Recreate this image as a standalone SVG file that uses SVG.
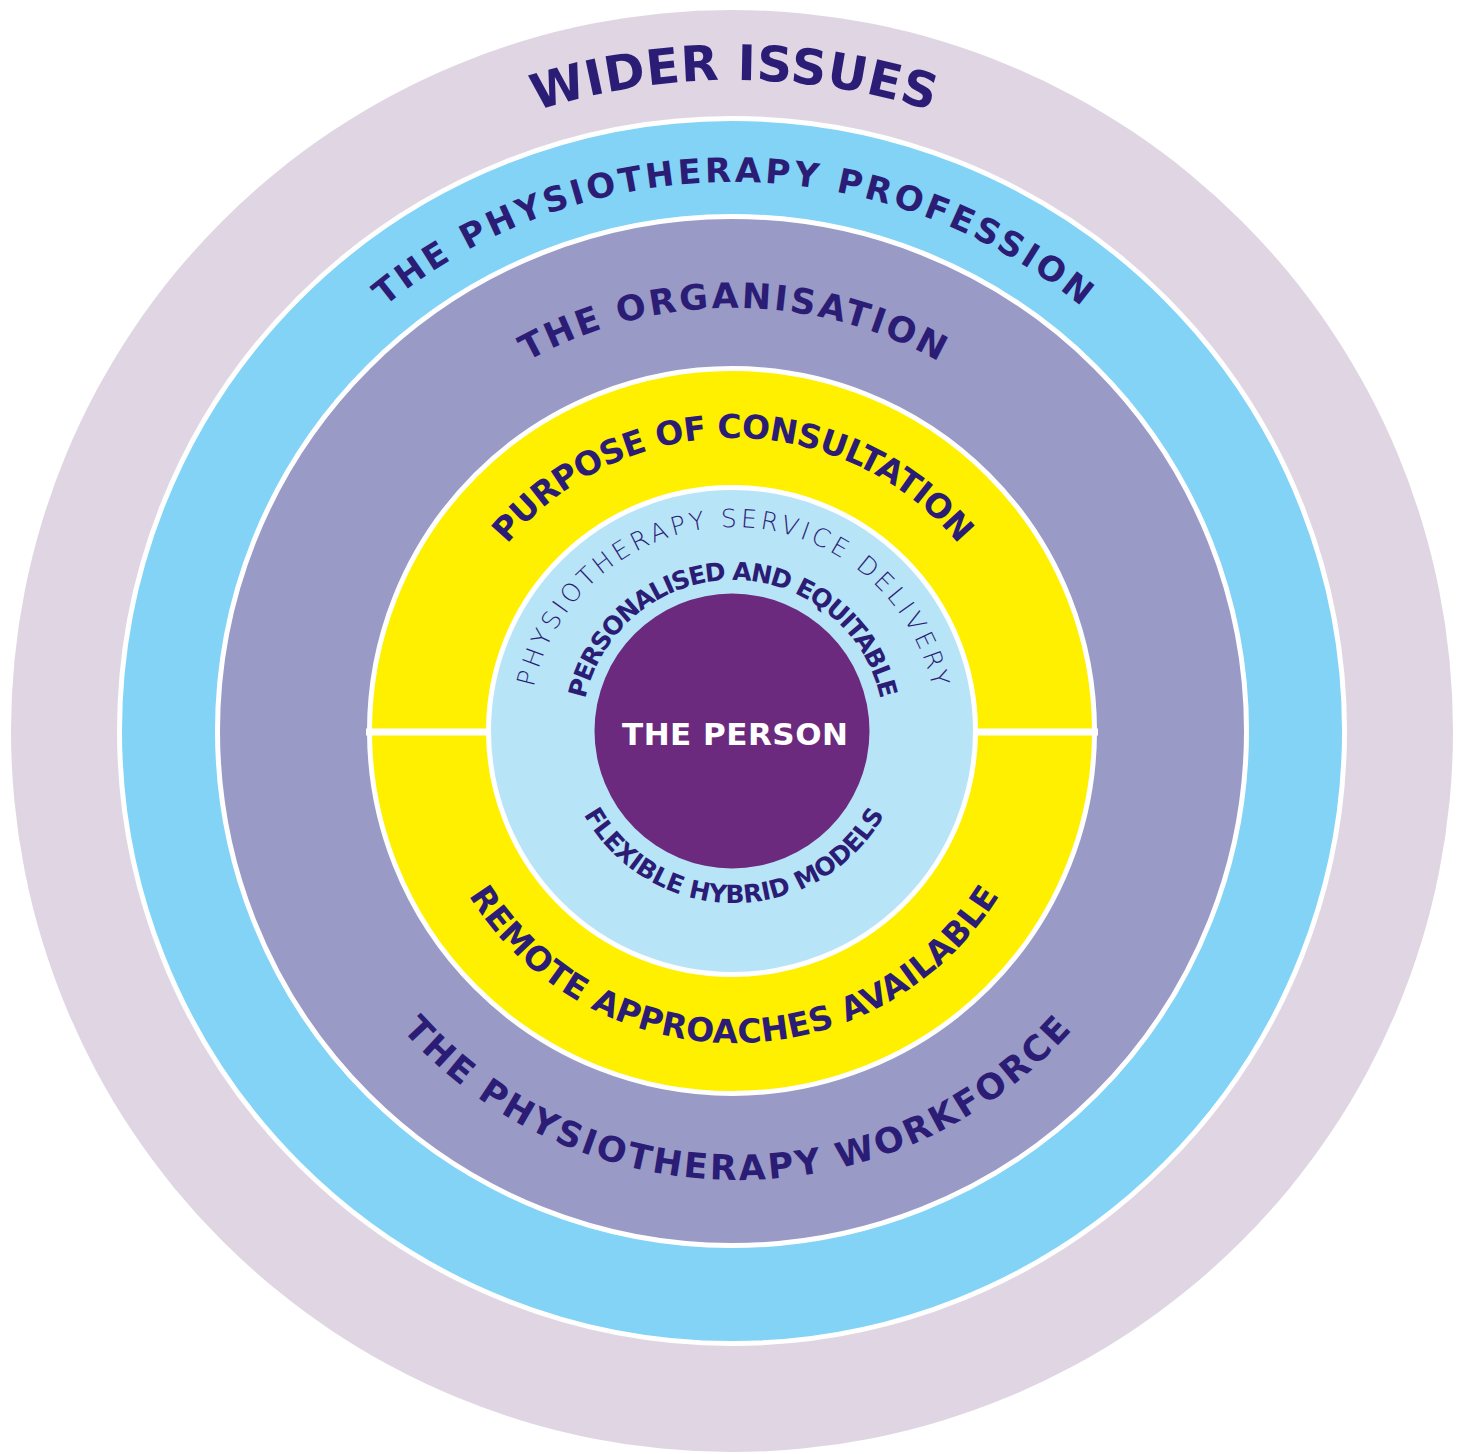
<svg xmlns="http://www.w3.org/2000/svg" xmlns:xlink="http://www.w3.org/1999/xlink" width="1470" height="1454" viewBox="0 0 1470 1454">
  <style>
    .ring { stroke: #ffffff; stroke-width: 5; }
    .lbl { font-family: "DejaVu Sans", Inter, "Liberation Sans", sans-serif; fill: #2b1d75; font-weight: 700; text-anchor: middle; }
    .thin { font-family: "DejaVu Sans", Inter, sans-serif; font-weight: 200; }
  </style>
  <defs>
    <!-- Clockwise full circles starting at the bottom: 50% lands at the top -->
    <path id="top651" d="M734,1382 A651,651 0 1 1 734,80 A651,651 0 1 1 734,1382"/>
    <path id="top549" d="M733,1280 A549,549 0 1 1 733,182 A549,549 0 1 1 733,1280"/>
    <path id="top423" d="M733,1154 A423,423 0 1 1 733,308 A423,423 0 1 1 733,1154"/>
    <path id="top293" d="M733,1024 A293,293 0 1 1 733,438 A293,293 0 1 1 733,1024"/>
    <path id="top204" d="M733,935 A204,204 0 1 1 733,527 A204,204 0 1 1 733,935"/>
    <path id="top151" d="M733,882 A151,151 0 1 1 733,580 A151,151 0 1 1 733,882"/>
    <!-- Counter-clockwise full circles starting at the top: 50% lands at the bottom -->
    <path id="bot172" d="M734,559 A172,172 0 1 0 734,903 A172,172 0 1 0 734,559"/>
    <path id="bot312" d="M734,419 A312,312 0 1 0 734,1043 A312,312 0 1 0 734,419"/>
    <path id="bot449" d="M737,282 A449,449 0 1 0 737,1180 A449,449 0 1 0 737,282"/>
  </defs>

  <g id="wider-issues">
    <circle cx="732" cy="731" r="721" fill="#e0d6e3"/>
    <text class="lbl" font-size="49"><textPath xlink:href="#top651" href="#top651" startOffset="50%" textLength="402">WIDER ISSUES</textPath></text>
  </g>

  <g id="profession">
    <circle class="ring" cx="732" cy="731" r="612.5" fill="#82d3f6"/>
    <text class="lbl" font-size="34"><textPath xlink:href="#top549" href="#top549" startOffset="50%" textLength="755">THE PHYSIOTHERAPY PROFESSION</textPath></text>
  </g>

  <g id="organisation">
    <circle class="ring" cx="732" cy="731" r="514.5" fill="#9a9ac7"/>
    <text class="lbl" font-size="35"><textPath xlink:href="#top423" href="#top423" startOffset="50%" textLength="430">THE ORGANISATION</textPath></text>
    <text class="lbl" font-size="35"><textPath xlink:href="#bot449" href="#bot449" startOffset="50%" textLength="756">THE PHYSIOTHERAPY WORKFORCE</textPath></text>
  </g>

  <g id="consultation">
    <circle class="ring" cx="732" cy="731" r="362.5" fill="#fff000"/>
    <rect x="366" y="728.5" width="732" height="7" fill="#ffffff"/>
    <text class="lbl" font-size="33"><textPath xlink:href="#top293" href="#top293" startOffset="50%" textLength="515">PURPOSE OF CONSULTATION</textPath></text>
    <text class="lbl" font-size="33"><textPath xlink:href="#bot312" href="#bot312" startOffset="50%" textLength="634">REMOTE APPROACHES AVAILABLE</textPath></text>
  </g>

  <g id="service-delivery">
    <circle class="ring" cx="732" cy="731" r="243.5" fill="#b8e4f8"/>
    <text class="lbl thin" font-size="25"><textPath xlink:href="#top204" href="#top204" startOffset="50%" textLength="553">PHYSIOTHERAPY SERVICE DELIVERY</textPath></text>
    <text class="lbl" font-size="25"><textPath xlink:href="#top151" href="#top151" startOffset="50%" textLength="410">PERSONALISED AND EQUITABLE</textPath></text>
    <text class="lbl" font-size="25"><textPath xlink:href="#bot172" href="#bot172" startOffset="50%" textLength="366">FLEXIBLE HYBRID MODELS</textPath></text>
  </g>

  <g id="the-person">
    <circle cx="732" cy="731" r="137.5" fill="#6b2a7e"/>
    <text x="735" y="745" font-family="'DejaVu Sans', Inter, 'Liberation Sans', sans-serif" font-weight="700" font-size="31" fill="#ffffff" text-anchor="middle" textLength="226">THE PERSON</text>
  </g>
</svg>
